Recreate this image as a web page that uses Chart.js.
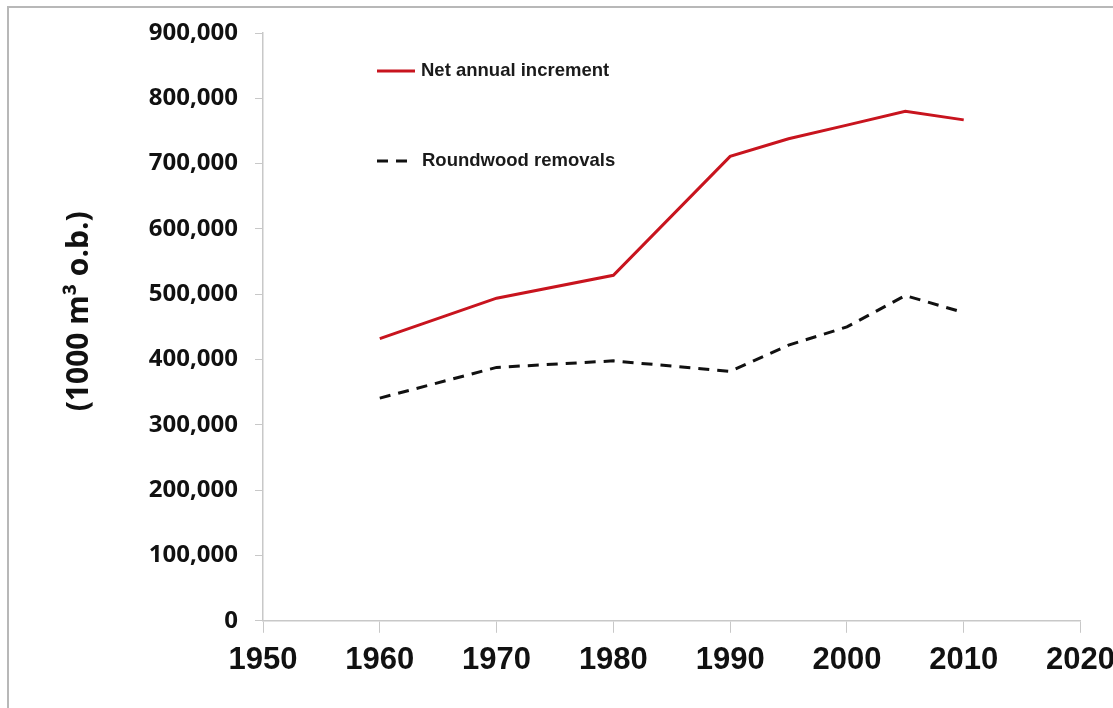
<!DOCTYPE html>
<html>
<head>
  <meta charset="utf-8">
  <title>Net annual increment and roundwood removals</title>
  <script src="https://cdn.jsdelivr.net/npm/chart.js@4"></script>
</head>
<style>
html, body{
	margin: 0;
	padding: 0;
	background: #ffffff;
	overflow: hidden;
}
#wrap{
	position: relative;
	width: 1113px;
	height: 708px;
	overflow: hidden;
}
#frame{
	position: absolute;
	left: 7px;
	top: 6px;
	width: 1200px;
	height: 800px;
	border: 2px solid #b8b8b8;
	pointer-events: none;
}
</style>
<body>
  <div id="wrap">
    <!--wider than the window so 2020 gets cut like the original-->
    <canvas id="woodChart" width="1124" height="708"></canvas>
    <div id="frame"></div>
  </div>

<script>
//////////////////////////////////////////////////
////////////////Chart data////////////////////////
var years = [1960, 1970, 1980, 1990, 1995, 2000, 2005, 2010];
var netIncrement = [432000, 494000, 529000, 711000, 738000, 759000, 780000, 767000];
var removals = [341000, 388000, 398000, 382000, 422000, 450000, 498000, 472000];
var xTicks = [1950, 1960, 1970, 1980, 1990, 2000, 2010, 2020];
var yTicks = [0, 100000, 200000, 300000, 400000, 500000, 600000, 700000, 800000, 900000];
var seriesNames = ["Net annual increment", "Roundwood removals"];
////////////////Chart data////////////////////////
//////////////////////////////////////////////////

//pairs the years with the values
function toPoints(vals){
  var pts = [];
  for (var i = 0; i < years.length; i++)
    pts.push({x: years[i], y: vals[i]});
  return pts;
}

var redLine = "#c8141e";
var arialFont = "'Liberation Sans', Arial, sans-serif";
var openFont = "'Open Sans', 'DejaVu Sans', sans-serif";

//draws the legend inside the plot, like the original
var insideLegend = {
  id: "insideLegend",
  afterDraw: function(chart){
    var ctx = chart.ctx;
    var area = chart.chartArea;
    var x0 = area.left + 114;
    var rows = [area.top + 38, area.top + 128];
    ctx.save();
    ctx.lineWidth = 3;
    for (var i = 0; i < seriesNames.length; i++)
    {
      var ds = chart.data.datasets[i];
      ctx.strokeStyle = ds.borderColor;
      ctx.setLineDash(ds.borderDash || []);
      ctx.beginPath();
      ctx.moveTo(x0, rows[i]);
      ctx.lineTo(x0 + (i == 0 ? 38 : 30), rows[i]);
      ctx.stroke();
      ctx.setLineDash([]);
      ctx.fillStyle = "#1a1a1a";
      ctx.font = "bold 18.5px " + arialFont;
      ctx.textBaseline = "middle";
      ctx.fillText(seriesNames[i], x0 + (i == 0 ? 44 : 45), rows[i]);
    }
    ctx.restore();
  }
};

var chartData = {
  datasets: [
    {
      label: seriesNames[0],
      data: toPoints(netIncrement),
      borderColor: redLine,
      borderWidth: 3,
      pointRadius: 0,
      tension: 0,
      fill: false
    },
    {
      label: seriesNames[1],
      data: toPoints(removals),
      borderColor: "#111111",
      borderWidth: 3,
      borderDash: [11, 8],
      pointRadius: 0,
      tension: 0,
      fill: false
    }
  ]
};

var options = {
  responsive: false,
  animation: false,
  layout: { padding: { top: 33, left: 0, right: 0, bottom: 20 } },
  plugins: {
    legend: { display: false },
    tooltip: { enabled: false }
  },
  scales: {
    x: {
      type: "linear",
      min: xTicks[0],
      max: xTicks[xTicks.length - 1],
      afterBuildTicks: function(scale){
        scale.ticks = xTicks.map(function(v){ return {value: v}; });
      },
      ticks: {
        color: "#111111",
        font: { family: arialFont, size: 31, weight: "bold" },
        padding: 9,
        maxRotation: 0,
        callback: function(v){ return String(v); }
      },
      grid: { drawOnChartArea: false, drawTicks: true, tickLength: 12, color: "#c8c8c8" },
      border: { color: "#c8c8c8", width: 1.5 }
    },
    y: {
      min: yTicks[0],
      max: yTicks[yTicks.length - 1],
      afterBuildTicks: function(scale){
        scale.ticks = yTicks.map(function(v){ return {value: v}; });
      },
      afterFit: function(scale){
        scale.width = 263;
      },
      ticks: {
        color: "#111111",
        font: { family: openFont, size: 24, weight: "bold" },
        padding: 17,
        callback: function(v){ return v.toLocaleString("en-US"); }
      },
      grid: { drawOnChartArea: false, drawTicks: true, tickLength: 8, color: "#c8c8c8" },
      border: { color: "#c8c8c8", width: 1.5 },
      title: {
        display: true,
        //leading spaces lift the title a little, as in the original
        text: "\u00a0\u00a0\u00a0\u00a0(1000 m\u00b3 o.b.)",
        color: "#111111",
        font: { family: openFont, size: 30, weight: "bold" },
        padding: { top: 61, bottom: 0 }
      }
    }
  }
};

var ctx = document.getElementById("woodChart").getContext("2d");
var woodChart = new Chart(ctx, { type: "line", data: chartData, options: options, plugins: [insideLegend] });
</script>
</body>
</html>
